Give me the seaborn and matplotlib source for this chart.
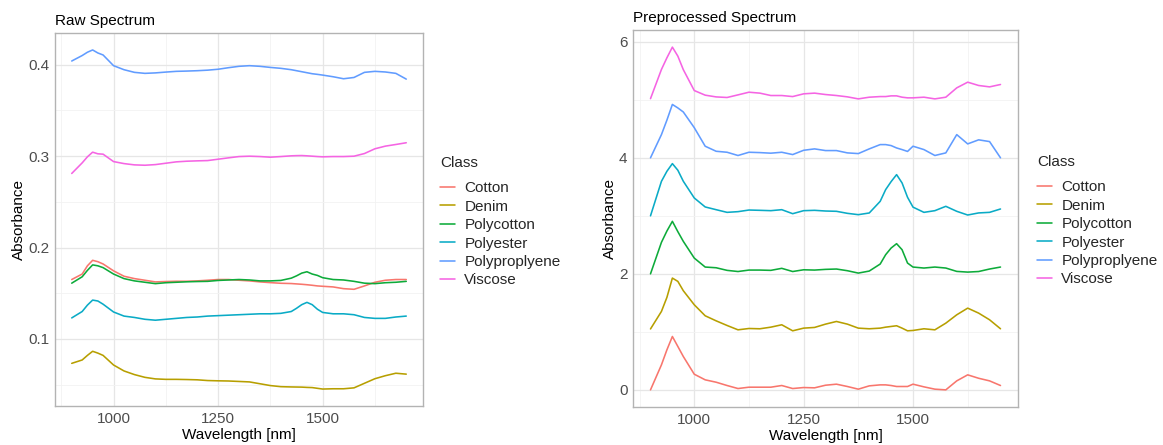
import numpy as np
import pandas as pd
import matplotlib
matplotlib.use("Agg")
import matplotlib.pyplot as plt
import seaborn as sns
from matplotlib.ticker import FixedLocator, MultipleLocator

# ---------------- data ----------------
classes = ["Cotton", "Denim", "Polycotton", "Polyester", "Polyproplyene", "Viscose"]
colors = ["#F8766D", "#B79F00", "#0DAB3A", "#0AABC6", "#619CFF", "#F564E3"]

wavelength = [900, 925, 937.5, 950, 962.5, 975, 1000, 1025, 1050, 1075, 1100, 1125,
              1150, 1175, 1200, 1225, 1250, 1275, 1300, 1325, 1350, 1375, 1400, 1425,
              1437.5, 1450, 1462.5, 1475, 1487.5, 1500, 1525, 1550, 1575, 1600, 1625,
              1650, 1675, 1700]

raw_cotton = [0.165, 0.171, 0.180, 0.186, 0.1845, 0.182, 0.1745, 0.1686, 0.166, 0.1642,
              0.1624, 0.1628, 0.1631, 0.1631, 0.1635, 0.1642, 0.165, 0.165, 0.1642, 0.1635,
              0.1624, 0.1616, 0.1609, 0.1606, 0.1602, 0.1598, 0.1593, 0.1587, 0.158, 0.1576,
              0.1569, 0.155, 0.1543, 0.158, 0.162, 0.1642, 0.165, 0.165]
raw_denim = [0.0733, 0.077, 0.082, 0.0865, 0.0845, 0.082, 0.0715, 0.065, 0.061, 0.058,
             0.0563, 0.0558, 0.0558, 0.0556, 0.0553, 0.0545, 0.0542, 0.054, 0.0535, 0.053,
             0.051, 0.049, 0.0478, 0.0475, 0.0474, 0.0473, 0.047, 0.0468, 0.046, 0.0452,
             0.0455, 0.0455, 0.0465, 0.0515, 0.0565, 0.0598, 0.0625, 0.0615]
raw_polycotton = [0.161, 0.168, 0.175, 0.181, 0.180, 0.178, 0.171, 0.166, 0.1635, 0.162,
                  0.1605, 0.1615, 0.162, 0.1625, 0.1628, 0.163, 0.164, 0.1645, 0.165, 0.1645,
                  0.1635, 0.1635, 0.164, 0.1665, 0.169, 0.172, 0.1735, 0.171, 0.1695, 0.167,
                  0.165, 0.1645, 0.163, 0.161, 0.1605, 0.1615, 0.162, 0.163]
raw_polyester = [0.123, 0.130, 0.137, 0.1425, 0.1415, 0.138, 0.1295, 0.125, 0.1235, 0.1215,
                 0.1205, 0.1215, 0.1225, 0.1235, 0.124, 0.125, 0.1255, 0.126, 0.1265, 0.127,
                 0.1275, 0.1275, 0.128, 0.130, 0.1335, 0.1375, 0.140, 0.1375, 0.1325, 0.129,
                 0.1275, 0.1275, 0.1265, 0.1235, 0.1225, 0.1225, 0.124, 0.125]
raw_polypropylene = [0.404, 0.410, 0.4136, 0.4161, 0.4128, 0.4106, 0.3989, 0.3945, 0.3916,
                     0.3905, 0.391, 0.3919, 0.3927, 0.393, 0.3934, 0.394, 0.395, 0.3967,
                     0.3982, 0.3989, 0.3982, 0.397, 0.396, 0.3945, 0.3934, 0.3923, 0.3912,
                     0.3901, 0.3894, 0.3886, 0.3868, 0.3846, 0.386, 0.3916, 0.3927, 0.392,
                     0.3905, 0.3842]
raw_viscose = [0.281, 0.2926, 0.2992, 0.3043, 0.3025, 0.3021, 0.294, 0.2918, 0.2904, 0.290,
               0.2907, 0.2922, 0.2937, 0.2944, 0.2948, 0.2951, 0.2966, 0.2981, 0.2995, 0.2999,
               0.2995, 0.2988, 0.2995, 0.3003, 0.3005, 0.3006, 0.3003, 0.2999, 0.2995, 0.2992,
               0.2995, 0.2995, 0.2999, 0.3028, 0.308, 0.3109, 0.3127, 0.3146]

pre_cotton = [0.0, 0.431, 0.69, 0.92, 0.748, 0.575, 0.27, 0.173, 0.132, 0.075, 0.023, 0.046,
              0.046, 0.046, 0.075, 0.023, 0.04, 0.035, 0.08, 0.098, 0.058, 0.012, 0.069, 0.086,
              0.086, 0.075, 0.058, 0.058, 0.058, 0.098, 0.052, 0.012, 0.0, 0.155, 0.259, 0.2,
              0.155, 0.075]
pre_denim = [1.05, 1.352, 1.594, 1.927, 1.87, 1.709, 1.467, 1.277, 1.19, 1.11, 1.035, 1.058,
             1.053, 1.081, 1.122, 1.018, 1.064, 1.076, 1.133, 1.179, 1.133, 1.064, 1.053, 1.064,
             1.081, 1.093, 1.105, 1.064, 1.018, 1.024, 1.053, 1.035, 1.15, 1.294, 1.409, 1.323,
             1.208, 1.053]
pre_polycotton = [2.0, 2.543, 2.738, 2.905, 2.727, 2.56, 2.272, 2.117, 2.105, 2.06, 2.04, 2.065,
                  2.065, 2.06, 2.095, 2.04, 2.07, 2.065, 2.077, 2.083, 2.054, 2.013, 2.048,
                  2.169, 2.33, 2.445, 2.52, 2.416, 2.186, 2.117, 2.10, 2.117, 2.1, 2.042, 2.03,
                  2.04, 2.083, 2.117]
pre_polyester = [3.0, 3.595, 3.768, 3.90, 3.786, 3.596, 3.308, 3.153, 3.106, 3.06, 3.072, 3.10,
                 3.095, 3.089, 3.106, 3.037, 3.089, 3.095, 3.083, 3.078, 3.043, 3.02, 3.049,
                 3.25, 3.452, 3.59, 3.71, 3.567, 3.32, 3.15, 3.06, 3.089, 3.164, 3.078, 3.014,
                 3.05, 3.06, 3.118]
pre_polypropylene = [4.0, 4.40, 4.65, 4.92, 4.86, 4.79, 4.52, 4.20, 4.113, 4.096, 4.04, 4.096,
                     4.09, 4.08, 4.096, 4.056, 4.13, 4.154, 4.125, 4.125, 4.085, 4.073, 4.154,
                     4.228, 4.228, 4.211, 4.17, 4.142, 4.11, 4.2, 4.142, 4.04, 4.085, 4.40,
                     4.24, 4.31, 4.28, 4.0]
pre_viscose = [5.02, 5.523, 5.724, 5.908, 5.753, 5.52, 5.16, 5.08, 5.05, 5.04, 5.085, 5.131,
               5.115, 5.074, 5.074, 5.056, 5.103, 5.115, 5.091, 5.074, 5.051, 5.016, 5.045,
               5.056, 5.056, 5.068, 5.068, 5.045, 5.034, 5.034, 5.045, 5.016, 5.045, 5.206,
               5.304, 5.247, 5.223, 5.264]

raw_series = [raw_cotton, raw_denim, raw_polycotton, raw_polyester, raw_polypropylene, raw_viscose]
pre_series = [pre_cotton, pre_denim, pre_polycotton, pre_polyester, pre_polypropylene, pre_viscose]


def to_long(series):
    frames = []
    for name, vals in zip(classes, series):
        frames.append(pd.DataFrame({"Wavelength": wavelength, "Absorbance": vals, "Class": name}))
    return pd.concat(frames, ignore_index=True)


df_raw = to_long(raw_series)
df_pre = to_long(pre_series)

# ---------------- style ----------------
sns.set_theme(style="white")
plt.rcParams["font.family"] = ["Liberation Sans", "DejaVu Sans"]
plt.rcParams["font.size"] = 11

W, H = 1163, 445
fig = plt.figure(figsize=(W / 100, H / 100), dpi=100)
fig.patch.set_facecolor("white")


def px_axes(l, t, r, b):
    return fig.add_axes([l / W, (H - b) / H, (r - l) / W, (b - t) / H])


ax1 = px_axes(55, 33, 423, 406)
ax2 = px_axes(633, 30, 1018, 407)

panels = [
    (ax1, df_raw, "Raw Spectrum", 0.1, 0.05, (1.046, 0.494)),
    (ax2, df_pre, "Preprocessed Spectrum", 2, 1, (1.049, 0.494)),
]

for ax, df, title, ymaj, ymin, lpos in panels:
    sns.lineplot(data=df, x="Wavelength", y="Absorbance", hue="Class",
                 hue_order=classes, palette=colors, estimator=None, sort=False,
                 linewidth=1.15, ax=ax)
    ax.margins(x=0.05, y=0.05)
    ax.set_facecolor("white")
    ax.xaxis.set_major_locator(FixedLocator([1000, 1250, 1500]))
    ax.xaxis.set_minor_locator(FixedLocator([875, 1125, 1375, 1625]))
    ax.yaxis.set_major_locator(MultipleLocator(ymaj))
    ax.yaxis.set_minor_locator(MultipleLocator(ymin))
    ax.grid(which="major", color="#E6E6E6", linewidth=0.9)
    ax.grid(which="minor", color="#F2F2F2", linewidth=0.6)
    ax.set_axisbelow(True)
    ax.tick_params(which="both", length=0, pad=4, labelsize=11, labelcolor="#4D4D4D")
    for s in ax.spines.values():
        s.set_color("#B3B3B3")
        s.set_linewidth(1.0)
    ax.set_xlabel("Wavelength [nm]", fontsize=11, color="black", labelpad=2)
    ax.set_ylabel("Absorbance", fontsize=11, color="black", labelpad=1.5)
    ax.set_title(title, loc="left", fontsize=11, color="black", pad=6)
    leg = ax.get_legend()
    handles = leg.legend_handles
    leg.remove()
    lg = ax.legend(handles, classes, title="Class", loc="center left",
                   bbox_to_anchor=lpos, frameon=False, fontsize=11,
                   title_fontsize=11, handlelength=1.0, handletextpad=0.6,
                   labelspacing=0.29, borderpad=0, borderaxespad=0,
                   alignment="left")
    lg._legend_box.sep = 8.1
    for h in lg.legend_handles:
        h.set_linewidth(1.15)

fig.savefig("out.png", dpi=100, facecolor="white")
